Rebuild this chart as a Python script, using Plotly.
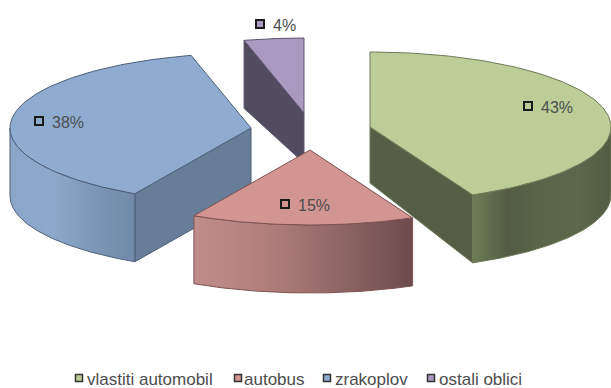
import numpy as np
import plotly.graph_objects as go

categories = ["vlastiti automobil", "autobus", "zrakoplov", "ostali oblici"]
shares = [43, 15, 38, 4]

# drawing styles, per slice
tips = [(370, 127), (310, 150), (251, 128), (304, 113)]
tip_depth = [56, 68, 68, 50]
top_colors = ["#bccd98", "#d39592", "#8fabd0", "#ab9ac0"]
cut_colors = ["#565f46", "#6f4a4a", "#687d97", "#524c60"]
wall_scales = [
    ["#6d7d58", "#545d44", "#5a6449", "#5c674b", "#535c43"],
    ["#c08e8a", "#b07f7c", "#8f6665", "#6d4a4b"],
    ["#8aa5c7", "#8ea9cb", "#7d97b8", "#7189a8"],
    ["#524c60", "#524c60", "#524c60", "#524c60"],
]
edge_colors = ["#6f7a58", "#7d5352", "#4d6078", "#5c5470"]
label_keys = [(528, 106), (285, 204), (39, 121), (260, 24)]
legend_keys = [79, 238, 327, 431]
legend_text_x = [87, 244, 335, 439]

RX, RY, DEPTH = 241, 75, 68
ORDER = [3, 2, 0, 1]

fig = go.Figure()


def arc(tip, a0, a1, n=120):
    t = np.radians(np.linspace(a0, a1, n))
    return tip[0] + RX * np.sin(t), tip[1] - RY * np.cos(t)


def poly(x, y, fill, line, gradient=None):
    kw = dict(x=list(x) + [x[0]], y=list(y) + [y[0]], mode="lines", fill="toself",
              line=dict(color=line, width=1), hoverinfo="skip", showlegend=False)
    if gradient:
        stops = [[i / (len(gradient) - 1), c] for i, c in enumerate(gradient)]
        kw["fillgradient"] = dict(type="horizontal", colorscale=stops)
    else:
        kw["fillcolor"] = fill
    fig.add_trace(go.Scatter(**kw))


def key_and_text(kx, ky, tx, ty, text, size, color, msize, mline, mcolor):
    fig.add_trace(go.Scatter(
        x=[kx], y=[ky], mode="markers",
        marker=dict(symbol="square", size=msize, color=color,
                    line=dict(color=mcolor, width=mline)),
        hoverinfo="skip", showlegend=False))
    fig.add_trace(go.Scatter(
        x=[tx], y=[ty], mode="text", text=[text], textposition="middle right",
        textfont=dict(family="Liberation Sans", size=size, color="#4d4d4d"),
        cliponaxis=False, hoverinfo="skip", showlegend=False))


bounds = np.concatenate([[0], np.cumsum(shares)]) * 360 / sum(shares)

for i in ORDER:
    tip, a0, a1 = tips[i], bounds[i], bounds[i + 1]
    # radial cut faces that look towards the viewer
    for edge, normal in ((a0, a0 - 90), (a1, a1 + 90)):
        if -np.cos(np.radians(normal)) > 1e-6:
            ex, ey = arc(tip, edge, edge, 1)
            poly([tip[0], ex[0], ex[0], tip[0]],
                 [tip[1], ey[0], ey[0] + DEPTH, tip[1] + tip_depth[i]],
                 cut_colors[i], edge_colors[i])
    # curved outer wall (front half of the ellipse only)
    w0, w1 = max(a0, 90), min(a1, 270)
    if w1 > w0:
        ax, ay = arc(tip, w0, w1)
        poly(np.concatenate([ax, ax[::-1]]), np.concatenate([ay, ay[::-1] + DEPTH]),
             None, edge_colors[i], gradient=wall_scales[i])
    # top surface
    ax, ay = arc(tip, a0, a1)
    poly(np.concatenate([[tip[0]], ax]), np.concatenate([[tip[1]], ay]),
         top_colors[i], edge_colors[i])

for i, name in enumerate(categories):
    kx, ky = label_keys[i]
    key_and_text(kx, ky, kx + 13, ky + 3, f"{shares[i]}%", 16, top_colors[i], 8, 2, "#1a1a1a")
    key_and_text(legend_keys[i], 378, legend_text_x[i], 381, name, 17, top_colors[i], 7, 1.5, "#333333")

fig.update_layout(
    width=611, height=388, margin=dict(l=0, r=0, t=0, b=0),
    paper_bgcolor="white", plot_bgcolor="white", showlegend=False,
    xaxis=dict(range=[0, 611], visible=False, fixedrange=True),
    yaxis=dict(range=[388, 0], visible=False, fixedrange=True),
)
fig.write_html("out.html", config={"displayModeBar": False},
               post_script="document.body.style.margin='0';document.body.style.overflow='hidden';")
